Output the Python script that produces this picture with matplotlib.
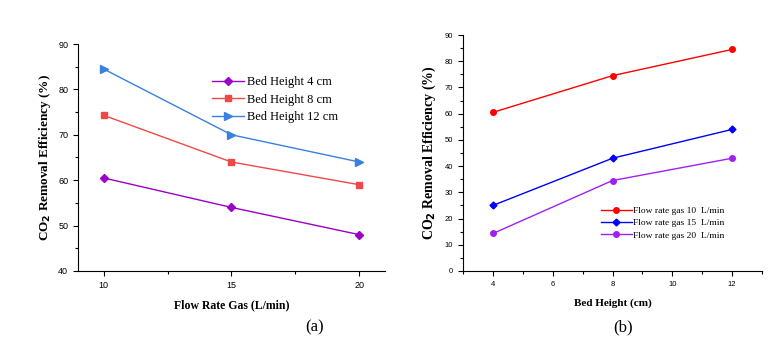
import matplotlib.pyplot as plt
from matplotlib.ticker import MultipleLocator

# (a) efficiency vs gas flow rate
flow_rate = [10, 15, 20]
bed_4cm = [60.5, 54.0, 48.0]
bed_8cm = [74.3, 64.0, 59.0]
bed_12cm = [84.5, 70.0, 64.0]

# (b) efficiency vs bed height
bed_height = [4, 8, 12]
flow_10 = [60.5, 74.5, 84.5]
flow_15 = [25.0, 43.0, 54.0]
flow_20 = [14.3, 34.5, 43.0]

serif = ['Liberation Serif', 'DejaVu Serif']
sans = ['Liberation Sans', 'DejaVu Sans']

fig = plt.figure(figsize=(7.83, 3.54), dpi=100)

def style_axes(ax, fs):
    for s in ['top', 'right']:
        ax.spines[s].set_visible(False)
    ax.tick_params(which='both', direction='out', labelsize=fs, width=0.8)
    ax.tick_params(which='major', length=3.5)
    ax.tick_params(which='minor', length=2)
    for lab in ax.get_xticklabels() + ax.get_yticklabels():
        lab.set_family(sans)

ylab = 'CO$_{\\mathbf{2}}$ Removal Efficiency (%)'

# panel (a)
ax1 = fig.add_axes([0.0996, 0.2345, 0.3921, 0.6412])
ax1.plot(flow_rate, bed_4cm, color='#9B00C8', marker='D', markersize=4.5, lw=1, label='Bed Height 4 cm')
ax1.plot(flow_rate, bed_8cm, color='#F04848', marker='s', markersize=4.5, lw=1, label='Bed Height 8 cm')
ax1.plot(flow_rate, bed_12cm, color='#3A80E0', marker='>', markersize=5.5, lw=1, label='Bed Height 12 cm')
ax1.set_xlim(9, 21)
ax1.set_ylim(40, 90)
ax1.set_xticks(flow_rate)
ax1.xaxis.set_minor_locator(MultipleLocator(2.5))
ax1.yaxis.set_major_locator(MultipleLocator(10))
ax1.yaxis.set_minor_locator(MultipleLocator(5))
style_axes(ax1, 6.5)
ax1.set_xlabel('Flow Rate Gas (L/min)', family=serif, fontweight='bold', fontsize=8.5, labelpad=7)
ax1.set_ylabel(ylab, family=serif, fontweight='bold', fontsize=9.5, labelpad=4)
ax1.legend(loc='upper left', bbox_to_anchor=(0.42, 0.88), frameon=False, prop={'family': serif, 'size': 9},
           handlelength=2.6, handletextpad=0.2, labelspacing=0.45, borderaxespad=0)
fig.text(0.402, 0.075, '(a)', family=serif, fontsize=12, ha='center', va='center')

# panel (b)
ax2 = fig.add_axes([0.5913, 0.2345, 0.3819, 0.6666])
ax2.plot(bed_height, flow_10, color='#FF0000', marker='o', markersize=4, lw=1, label='Flow rate gas 10  L/min')
ax2.plot(bed_height, flow_15, color='#0000FF', marker='D', markersize=3.5, lw=1, label='Flow rate gas 15  L/min')
ax2.plot(bed_height, flow_20, color='#A020F0', marker='o', markersize=4, lw=1, label='Flow rate gas 20  L/min')
ax2.set_xlim(3, 13)
ax2.set_ylim(0, 90)
ax2.set_xticks([4, 6, 8, 10, 12])
ax2.xaxis.set_minor_locator(MultipleLocator(1))
ax2.yaxis.set_major_locator(MultipleLocator(10))
ax2.yaxis.set_minor_locator(MultipleLocator(5))
style_axes(ax2, 5.5)
ax2.set_xlabel('Bed Height (cm)', family=serif, fontweight='bold', fontsize=8, labelpad=8)
ax2.set_ylabel(ylab, family=serif, fontweight='bold', fontsize=10, labelpad=5)
ax2.legend(loc='upper left', bbox_to_anchor=(0.45, 0.29), frameon=False, prop={'family': serif, 'size': 6.8},
           handlelength=3.2, handletextpad=0.2, labelspacing=0.4, borderaxespad=0)
fig.text(0.796, 0.075, '(b)', family=serif, fontsize=12, ha='center', va='center')

fig.savefig('out.png', dpi=100)
